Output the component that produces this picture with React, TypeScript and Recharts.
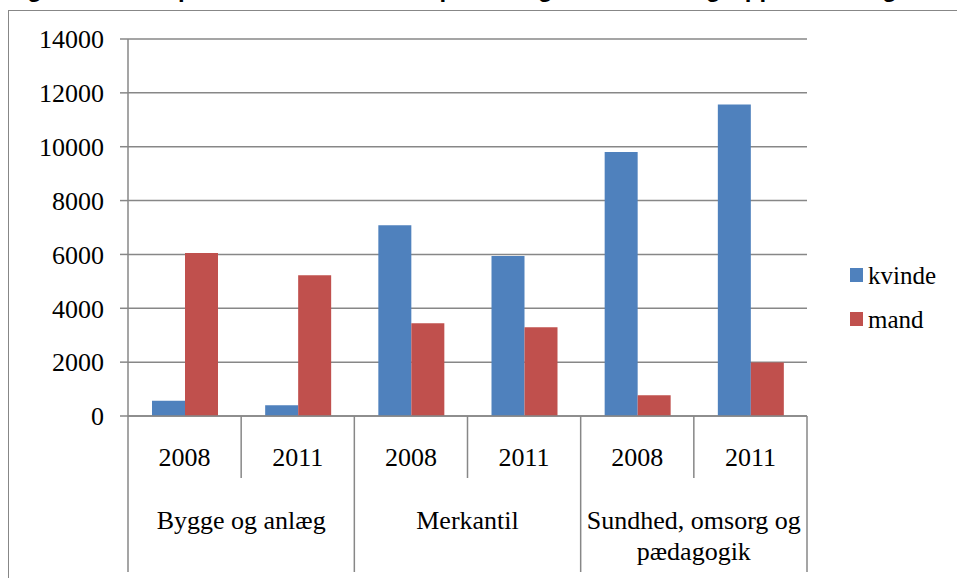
import { BarChart, Bar, XAxis, YAxis, CartesianGrid } from "recharts"

const years = ["2008", "2011", "2008", "2011", "2008", "2011"]
const groups = [["Bygge og anlæg"], ["Merkantil"], ["Sundhed, omsorg og", "pædagogik"]]
const kvinde = [570, 400, 7080, 5940, 9800, 11570]
const mand = [6050, 5230, 3440, 3300, 770, 1990]
const yTicks = [0, 2000, 4000, 6000, 8000, 10000, 12000, 14000]
const series = [
  { key: "kvinde", name: "kvinde", color: "#4F81BD" },
  { key: "mand", name: "mand", color: "#C0504D" },
]

const W = 957
const H = 578
const PLOT_LEFT = 128
const PLOT_RIGHT = 807
const BAND = (PLOT_RIGHT - PLOT_LEFT) / years.length
const LINE = "#878787"
const FONT = "Liberation Serif, Times New Roman, serif"

const data = years.map((year, i) => ({ year, kvinde: kvinde[i], mand: mand[i] }))

function CategoryTick(props: any) {
  const { x, y, payload, index } = props
  const groupEnd = index % 2 === 1
  const right = x + BAND / 2
  const left = x - BAND / 2
  const lines = groupEnd ? groups[(index - 1) / 2] : []
  return (
    <g>
      {index === 0 && <line x1={left} x2={left} y1={y} y2={572} stroke={LINE} strokeWidth={1.5} />}
      <line x1={right} x2={right} y1={y} y2={groupEnd ? 572 : 478} stroke={LINE} strokeWidth={1.5} />
      <text x={x} y={y + 41} dy="0.355em" textAnchor="middle" fill="#000" fontSize={26} fontFamily={FONT}>
        {payload.value}
      </text>
      {lines.map((l: string, k: number) => (
        <text key={k} x={left} y={y + 104 + k * 31} dy="0.355em" textAnchor="middle" fill="#000" fontSize={26} fontFamily={FONT}>
          {l}
        </text>
      ))}
    </g>
  )
}

export default function App() {
  return (
    <div style={{ position: "fixed", left: 0, top: 0, width: W, height: H, overflow: "hidden", background: "#fff" }}>
      <div
        style={{
          position: "absolute", left: 6, top: -23, whiteSpace: "nowrap",
          fontFamily: "Liberation Sans, Arial, sans-serif", fontWeight: "bold", fontSize: 24, lineHeight: "24px",
        }}
      >
        Figur 9. Elever på hovedforløb fordelt på køn og uddannelsesgruppe i 2008 og 2011
      </div>
      <div
        style={{
          position: "absolute", left: 8, top: 10, width: 2000, height: 2000,
          borderLeft: `1.5px solid ${LINE}`, borderTop: `1.5px solid ${LINE}`,
        }}
      />
      <div style={{ position: "absolute", left: 0, top: 0 }}>
        <BarChart width={W} height={H} data={data} margin={{ top: 39, right: W - PLOT_RIGHT, bottom: 0, left: 0 }} barGap={0} barSize={33}>
          <CartesianGrid horizontal vertical={false} stroke={LINE} strokeWidth={1.5} />
          <XAxis
            dataKey="year"
            height={162}
            interval={0}
            tickSize={0}
            tickMargin={0}
            tickLine={false}
            axisLine={{ stroke: LINE, strokeWidth: 1.5 }}
            tick={<CategoryTick />}
          />
          <YAxis
            width={PLOT_LEFT}
            domain={[0, 14000]}
            ticks={yTicks}
            interval={0}
            tickSize={8}
            tickMargin={16}
            axisLine={{ stroke: LINE, strokeWidth: 1.5 }}
            tickLine={{ stroke: LINE, strokeWidth: 1.5 }}
            tick={{ fill: "#000", fontSize: 26, fontFamily: FONT }}
          />
          {series.map((s) => (
            <Bar key={s.key} dataKey={s.key} name={s.name} fill={s.color} isAnimationActive={false} />
          ))}
        </BarChart>
      </div>
      <svg width={110} height={90} style={{ position: "absolute", left: 848, top: 253 }}>
        {series.map((s, i) => (
          <g key={s.key}>
            <rect x={2} y={15 + i * 44} width={13} height={14} fill={s.color} />
            <text x={20} y={22 + i * 44} dy="0.355em" fontSize={25} fontFamily={FONT} fill="#000">
              {s.name}
            </text>
          </g>
        ))}
      </svg>
    </div>
  )
}
